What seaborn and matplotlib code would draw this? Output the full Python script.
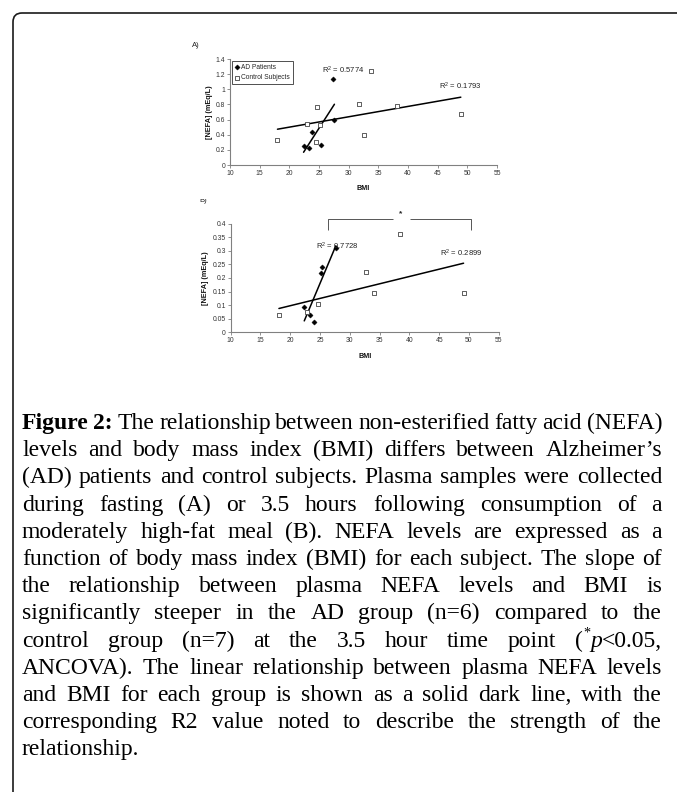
import matplotlib
matplotlib.use("Agg")
import matplotlib.pyplot as plt
import seaborn as sns
import pandas as pd
import numpy as np
from matplotlib.patches import FancyBboxPatch, Rectangle
from matplotlib.transforms import IdentityTransform

# ---------------- data ----------------
bmi_ticks = [10, 15, 20, 25, 30, 35, 40, 45, 50, 55]
bmi_tick_labels = ["10", "15", "20", "25", "30", "35", "40", "45", "50", "55"]
a_yticks = [0, 0.2, 0.4, 0.6, 0.8, 1.0, 1.2, 1.4]
a_ytick_labels = ["0", "0.2", "0.4", "0.6", "0.8", "1", "1.2", "1.4"]
b_yticks = [0, 0.05, 0.1, 0.15, 0.2, 0.25, 0.3, 0.35, 0.4]
b_ytick_labels = ["0", "0.05", "0.1", "0.15", "0.2", "0.25", "0.3", "0.35", "0.4"]

group_names = ["AD Patients", "Control Subjects"]

a_ad_bmi = [22.4, 23.3, 23.9, 25.3, 27.4, 27.6]
a_ad_nefa = [0.25, 0.23, 0.43, 0.27, 1.13, 0.59]
a_ctrl_bmi = [18.0, 22.9, 24.5, 24.6, 25.1, 31.7, 32.5, 33.7, 38.2, 48.9]
a_ctrl_nefa = [0.33, 0.54, 0.30, 0.77, 0.53, 0.81, 0.39, 1.24, 0.78, 0.68]

b_ad_bmi = [22.35, 23.35, 24.0, 25.1, 25.35, 27.65]
b_ad_nefa = [0.093, 0.065, 0.039, 0.220, 0.239, 0.311]
b_ctrl_bmi = [18.1, 22.85, 24.6, 32.8, 34.0, 38.4, 49.1]
b_ctrl_nefa = [0.062, 0.074, 0.106, 0.221, 0.145, 0.363, 0.144]

a_r2_labels = ["0.5774", "0.1793"]
b_r2_labels = ["0.7728", "0.2899"]

caption_lines = [
    "Figure 2: The relationship between non-esterified fatty acid (NEFA)",
    "levels and body mass index (BMI) differs between Alzheimer\u2019s",
    "(AD) patients and control subjects. Plasma samples were collected",
    "during fasting (A) or 3.5 hours following consumption of a",
    "moderately high-fat meal (B). NEFA levels are expressed as a",
    "function of body mass index (BMI) for each subject. The slope of",
    "the relationship between plasma NEFA levels and BMI is",
    "significantly steeper in the AD group (n=6) compared to the",
    "control group (n=7) at the 3.5 hour time point (*p<0.05,",
    "ANCOVA). The linear relationship between plasma NEFA levels",
    "and BMI for each group is shown as a solid dark line, with the",
    "corresponding R2 value noted to describe the strength of the",
    "relationship.",
]

# ---------------- style ----------------
sns.set_style("ticks")
plt.rcParams["font.family"] = ["Liberation Sans", "DejaVu Sans"]
plt.rcParams["mathtext.fontset"] = "custom"
plt.rcParams["mathtext.rm"] = "Liberation Sans"
plt.rcParams["mathtext.it"] = "Liberation Sans:italic"
plt.rcParams["mathtext.bf"] = "Liberation Sans:bold"

W, H = 677, 792
fig = plt.figure(figsize=(W / 100, H / 100), dpi=100)
fig.patch.set_facecolor("white")


def px_rect(left, top, right, bottom):
    return [left / W, 1 - bottom / H, (right - left) / W, (bottom - top) / H]


SPINE = "#808080"
TICKTXT = "#333333"


def make_panel(rect, ad_x, ad_y, c_x, c_y, yticks, ylabels, ylim, ylab_x):
    ax = fig.add_axes(rect)
    sns.regplot(x=ad_x, y=ad_y, scatter=False, ci=None, color="black",
                line_kws={"lw": 1.1}, ax=ax, truncate=True)
    sns.regplot(x=c_x, y=c_y, scatter=False, ci=None, color="black",
                line_kws={"lw": 1.1}, ax=ax, truncate=True)
    sns.scatterplot(x=ad_x, y=ad_y, marker="D", s=7, color="black",
                    edgecolor="black", linewidth=0.3, ax=ax,
                    label=group_names[0], zorder=3)
    sns.scatterplot(x=c_x, y=c_y, marker="s", s=7, color="white",
                    edgecolor="#444444", linewidth=0.6, ax=ax,
                    label=group_names[1], zorder=3)
    ax.set_xlim(10, 55)
    ax.set_ylim(*ylim)
    ax.set_xticks(bmi_ticks)
    ax.set_xticklabels(bmi_tick_labels)
    ax.set_yticks(yticks)
    ax.set_yticklabels(ylabels)
    sns.despine(ax=ax)
    for s in ("left", "bottom"):
        ax.spines[s].set_color(SPINE)
        ax.spines[s].set_linewidth(0.8)
    ax.tick_params(axis="both", direction="out", length=2, width=0.6,
                   color=SPINE, labelsize=4.9, labelcolor=TICKTXT, pad=1.5,
                   bottom=True, left=True)
    ax.set_xlabel("BMI", fontsize=5.2, fontweight="bold", color="#111111")
    ax.set_ylabel("[NEFA] (mEq/L)", fontsize=5.2, fontweight="bold", color="#111111")
    ax.xaxis.set_label_coords(0.5, -0.19)
    ax.yaxis.set_label_coords(ylab_x, 0.5)
    ax.set_facecolor("white")
    return ax


# ---------------- panel A ----------------
axA = make_panel(px_rect(230, 59, 497, 165), a_ad_bmi, a_ad_nefa,
                 a_ctrl_bmi, a_ctrl_nefa, a_yticks, a_ytick_labels, (0, 1.4), -0.064)
handles, labels = axA.get_legend_handles_labels()
leg = axA.legend(handles, labels, loc="upper left", bbox_to_anchor=(0.006, 0.985),
                 borderaxespad=0, fontsize=4.8, frameon=True, fancybox=False,
                 edgecolor="#333333", framealpha=1, handlelength=0.6,
                 handletextpad=0.35, labelspacing=0.55, borderpad=0.45,
                 markerscale=1.0)
leg.get_frame().set_linewidth(0.6)
axA.text(25.55, 1.255, "R$^2$ = " + a_r2_labels[0], fontsize=5.5, ha="left", va="center", color="#222222")
axA.text(45.2, 1.034, "R$^2$ = " + a_r2_labels[1], fontsize=5.5, ha="left", va="center", color="#222222")

# ---------------- panel B ----------------
axB = make_panel(px_rect(230.7, 223.7, 498.7, 332.3), b_ad_bmi, b_ad_nefa,
                 b_ctrl_bmi, b_ctrl_nefa, b_yticks, b_ytick_labels, (0, 0.4), -0.081)
if axB.get_legend() is not None:
    axB.get_legend().remove()
axB.text(24.27, 0.318, "R$^2$ = " + b_r2_labels[0], fontsize=5.5, ha="left", va="center", color="#222222")
axB.text(45.14, 0.291, "R$^2$ = " + b_r2_labels[1], fontsize=5.5, ha="left", va="center", color="#222222")
# significance bracket
br_kw = dict(color="#555555", lw=0.7, clip_on=False, solid_capstyle="butt")
axB.plot([26.4, 26.4, 37.3], [0.377, 0.416, 0.416], **br_kw)
axB.plot([40.1, 50.3, 50.3], [0.416, 0.416, 0.377], **br_kw)
axB.text(38.6, 0.437, "*", fontsize=6, ha="center", va="center", color="#222222",
         fontweight="bold", clip_on=False)

# panel letters
fig.text(196 / W, 1 - 46.7 / H, "A)", fontsize=5.5, ha="center", va="baseline", color="#222222")
fig.text(203 / W, 1 - 201.7 / H, "B)", fontsize=5.5, ha="center", va="baseline",
         color="#222222", zorder=1)
fig.add_artist(Rectangle((190 / W, 1 - 198.6 / H), 30 / W, 10 / H,
                         transform=fig.transFigure, facecolor="white",
                         edgecolor="none", zorder=5))

# ---------------- border ----------------
border = FancyBboxPatch((13, -60), 800, (H - 13) + 60,
                        boxstyle="round,pad=0,rounding_size=9",
                        transform=IdentityTransform(), facecolor="none",
                        edgecolor="#1a1a1a", linewidth=1.2, clip_on=False, zorder=6)
fig.add_artist(border)

# ---------------- caption ----------------
renderer = fig.canvas.get_renderer()
SERIF = ["Liberation Serif", "DejaVu Serif"]


def style_props(kind, fs):
    p = dict(family=SERIF, size=fs, color="black")
    if kind == "b":
        p["weight"] = "bold"
    elif kind == "i":
        p["style"] = "italic"
    elif kind == "s":
        p["size"] = fs * 0.6
    return p


def measure(s, props):
    t = fig.text(0, 0, s, **props)
    w = t.get_window_extent(renderer).width
    t.remove()
    return w


def word_segments(li, wi, word):
    if li == 0 and wi < 2:
        return [(word, "b")]
    if word == "(*p<0.05,":
        return [("(", "r"), ("*", "s"), ("p", "i"), ("<0.05,", "r")]
    return [(word, "r")]


# font size chosen so that a normally spaced line fills the text width
ref_line = caption_lines[5]
w10 = measure(ref_line, style_props("r", 10))
fs = 10 * 618 / w10

LEFT, RIGHT = 22, 662
BASE0, LSTEP = 429, 27.2

space_w = measure("a a", style_props("r", fs)) - measure("aa", style_props("r", fs))

for li, line in enumerate(caption_lines):
    words = line.split(" ")
    segs = [word_segments(li, wi, w) for wi, w in enumerate(words)]
    widths = []
    for sg in segs:
        ws = [measure(t, style_props(k, fs)) for t, k in sg]
        widths.append(ws)
    total = sum(sum(ws) for ws in widths)
    last = li == len(caption_lines) - 1
    if last or len(words) == 1:
        gap = space_w
    else:
        gap = (RIGHT - LEFT - total) / (len(words) - 1)
    x = LEFT
    ybase = BASE0 + li * LSTEP
    for sg, ws in zip(segs, widths):
        for (t, k), w in zip(sg, ws):
            yy = ybase - (fs * 0.42 * 100 / 72 if k == "s" else 0)
            fig.text(x / W, 1 - yy / H, t, ha="left", va="baseline", **style_props(k, fs))
            x += w
        x += gap

fig.savefig("out.png", dpi=100, facecolor="white")
